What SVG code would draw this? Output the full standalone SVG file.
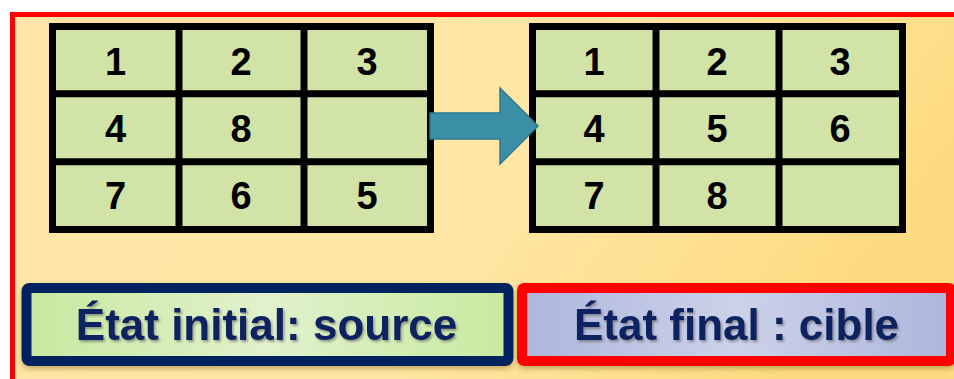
<svg xmlns="http://www.w3.org/2000/svg" width="954" height="379" viewBox="0 0 954 379">
  <defs>
    <linearGradient id="bg" x1="0" y1="0" x2="1" y2="0.3">
      <stop offset="0" stop-color="#fee4a6"/>
      <stop offset="0.6" stop-color="#fee6a4"/>
      <stop offset="1" stop-color="#fddb80"/>
    </linearGradient>
    <linearGradient id="gGreen" x1="0" y1="0" x2="1" y2="0">
      <stop offset="0" stop-color="#c9e9a0"/>
      <stop offset="0.5" stop-color="#e0f1cc"/>
      <stop offset="1" stop-color="#c9eaa0"/>
    </linearGradient>
    <linearGradient id="gBlue" x1="0" y1="0" x2="1" y2="0">
      <stop offset="0" stop-color="#adb6dc"/>
      <stop offset="0.5" stop-color="#cdd2e9"/>
      <stop offset="1" stop-color="#adb6dc"/>
    </linearGradient>
    <filter id="tshadow" x="-5%" y="-20%" width="110%" height="150%">
      <feDropShadow dx="1.5" dy="2" stdDeviation="1.2" flood-color="#555" flood-opacity="0.55"/>
    </filter>
    <filter id="bshadow" x="-5%" y="-20%" width="110%" height="150%">
      <feDropShadow dx="0" dy="3" stdDeviation="2.5" flood-color="#8a6a20" flood-opacity="0.45"/>
    </filter>
  </defs>
  <style>
    .cell { fill: #d1e3a7; }
    .grid { fill: none; stroke: #000; stroke-width: 7; stroke-linejoin: miter; }
    .num { font-family: "Liberation Sans", Arial, sans-serif; font-weight: bold; font-size: 38px; fill: #000; text-anchor: middle; }
    .lbl { font-family: "Liberation Sans", Arial, sans-serif; font-weight: bold; font-size: 44px; fill: #0d2260; text-anchor: middle; }
  </style>

  <rect x="0" y="0" width="954" height="379" fill="#ffffff"/>
  <rect id="frame" x="12.5" y="14.5" width="960" height="380" fill="url(#bg)" stroke="#ff0000" stroke-width="5"/>

  <g id="source-grid">
    <rect class="cell" x="52.5" y="26.5" width="378" height="203"/>
    <path class="grid" d="M52.5 26.5H430.5V229.5H52.5Z M179 26.5V229.5 M304 26.5V229.5 M52.5 93.7H430.5 M52.5 161.7H430.5"/>
    <text class="num" x="115.5" y="75">1</text>
    <text class="num" x="241" y="75">2</text>
    <text class="num" x="367" y="75">3</text>
    <text class="num" x="115.5" y="142">4</text>
    <text class="num" x="241" y="142">8</text>
    <text class="num" x="115.5" y="209">7</text>
    <text class="num" x="241" y="209">6</text>
    <text class="num" x="367" y="209">5</text>
  </g>

  <g id="target-grid">
    <rect class="cell" x="532.5" y="26.5" width="370" height="203"/>
    <path class="grid" d="M532.5 26.5H902.5V229.5H532.5Z M656 26.5V229.5 M779 26.5V229.5 M532.5 93.7H902.5 M532.5 161.7H902.5"/>
    <text class="num" x="594" y="75">1</text>
    <text class="num" x="717" y="75">2</text>
    <text class="num" x="840" y="75">3</text>
    <text class="num" x="594" y="142">4</text>
    <text class="num" x="717" y="142">5</text>
    <text class="num" x="840" y="142">6</text>
    <text class="num" x="594" y="209">7</text>
    <text class="num" x="717" y="209">8</text>
  </g>

  <g id="connectors">
    <polygon points="430,113 500,113 500,88 538,126 500,164 500,139 430,139" fill="#3a8ea6" stroke="#2c7890" stroke-width="1.5" stroke-linejoin="miter"/>
  </g>

  <g id="label-source">
    <rect x="26.5" y="288" width="482" height="73" rx="3" fill="url(#gGreen)" stroke="#03205f" stroke-width="10" filter="url(#bshadow)"/>
    <text class="lbl" x="266.5" y="340" filter="url(#tshadow)">État initial: source</text>
  </g>

  <g id="label-target">
    <rect x="522" y="288" width="429" height="73" rx="2" fill="url(#gBlue)" stroke="#ff0000" stroke-width="10" filter="url(#bshadow)"/>
    <text class="lbl" x="736.5" y="340" filter="url(#tshadow)">État final : cible</text>
  </g>
</svg>
